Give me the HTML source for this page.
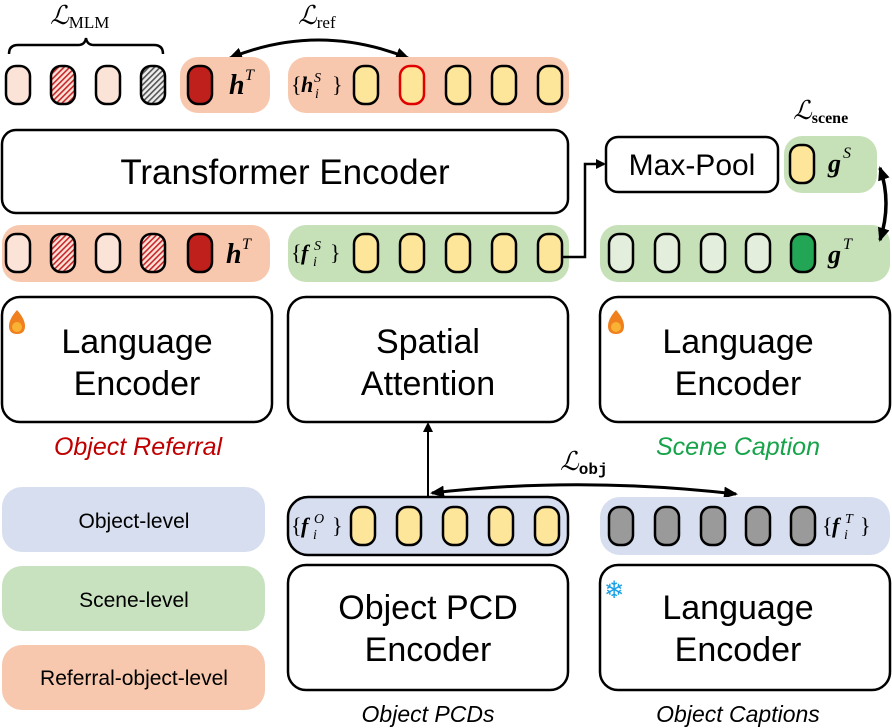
<!DOCTYPE html>
<html><head><meta charset="utf-8"><style>
html,body{margin:0;padding:0;background:#fff;}
svg{display:block;}
.sf{font-family:"Liberation Sans",sans-serif;}
.m{font-family:"Liberation Serif",serif;font-style:italic;}
.n{font-family:"Liberation Serif",serif;}
</style></head><body>
<svg width="892" height="728" viewBox="0 0 892 728" xmlns="http://www.w3.org/2000/svg">
<defs>
<pattern id="hr" width="4" height="4" patternUnits="userSpaceOnUse" patternTransform="rotate(45)">
<rect width="4" height="4" fill="#fbe3d8"/><rect width="1.6" height="4" fill="#c8262a"/></pattern>
<pattern id="hg" width="4" height="4" patternUnits="userSpaceOnUse" patternTransform="rotate(45)">
<rect width="4" height="4" fill="#eee"/><rect width="1.6" height="4" fill="#555"/></pattern>
<marker id="ar" markerWidth="10" markerHeight="10" refX="8" refY="5" orient="auto" markerUnits="userSpaceOnUse">
<path d="M0,0 L10,5 L0,10 z" fill="#000"/></marker>
<marker id="arb" markerWidth="14" markerHeight="12" refX="12" refY="6" orient="auto" markerUnits="userSpaceOnUse">
<path d="M0,0 L14,6 L0,12 z" fill="#000"/></marker>
<marker id="ars" markerWidth="14" markerHeight="12" refX="2" refY="6" orient="auto" markerUnits="userSpaceOnUse">
<path d="M14,0 L0,6 L14,12 z" fill="#000"/></marker>
</defs>

<!-- top row -->
<text x="50" y="24" class="m" font-size="26">ℒ<tspan font-style="normal" font-size="17" dy="4">MLM</tspan></text>
<path d="M9,54 Q9,45 18,45 L78,45 Q85,45 86,38 Q87,45 94,45 L154,45 Q163,45 163,54" fill="none" stroke="#000" stroke-width="2.5"/>
<text x="298" y="24" class="m" font-size="26">ℒ<tspan font-style="normal" font-size="17" dy="4">ref</tspan></text>
<path d="M230,58 Q318,22 408,58" fill="none" stroke="#000" stroke-width="3" marker-start="url(#ars)" marker-end="url(#arb)"/>

<rect x="180" y="57" width="90" height="56" rx="18" fill="#f7c8ae"/>
<rect x="288" y="57" width="281" height="56" rx="18" fill="#f7c8ae"/>
<g stroke="#000" stroke-width="2.5">
<rect x="6" y="66" width="24" height="38" rx="10" fill="#fbe3d8"/>
<rect x="51" y="66" width="24" height="38" rx="10" fill="url(#hr)"/>
<rect x="96" y="66" width="24" height="38" rx="10" fill="#fbe3d8"/>
<rect x="141" y="66" width="24" height="38" rx="10" fill="url(#hg)"/>
<rect x="188" y="66" width="24" height="38" rx="10" fill="#c0201c"/>
<rect x="354" y="66" width="24" height="38" rx="10" fill="#fde59a"/>
<rect x="400" y="66" width="24" height="38" rx="10" fill="#fde59a" stroke="#e00000"/>
<rect x="446" y="66" width="24" height="38" rx="10" fill="#fde59a"/>
<rect x="492" y="66" width="24" height="38" rx="10" fill="#fde59a"/>
<rect x="538" y="66" width="24" height="38" rx="10" fill="#fde59a"/>
</g>
<text x="229" y="94" class="m" font-weight="bold" font-size="28">h</text>
<text x="245" y="80" class="m" font-size="16">T</text>
<text x="291" y="92" class="n" font-size="22">{</text>
<text x="301" y="92" class="m" font-weight="bold" font-size="22">h</text>
<text x="314" y="82" class="m" font-size="14">S</text>
<text x="315" y="98" class="m" font-size="14">i</text>
<text x="332" y="92" class="n" font-size="22">}</text>

<!-- transformer -->
<rect x="2" y="130" width="566" height="83" rx="14" fill="#fff" stroke="#000" stroke-width="2.5"/>
<text x="285" y="184" text-anchor="middle" class="sf" font-size="35">Transformer Encoder</text>

<!-- row 2 -->
<rect x="2" y="225" width="268" height="57" rx="18" fill="#f7c8ae"/>
<rect x="288" y="225" width="281" height="57" rx="18" fill="#c6e0b8"/>
<g stroke="#000" stroke-width="2.5">
<rect x="6" y="234" width="24" height="38" rx="10" fill="#fbe3d8"/>
<rect x="51" y="234" width="24" height="38" rx="10" fill="url(#hr)"/>
<rect x="96" y="234" width="24" height="38" rx="10" fill="#fbe3d8"/>
<rect x="141" y="234" width="24" height="38" rx="10" fill="url(#hr)"/>
<rect x="188" y="234" width="24" height="38" rx="10" fill="#c0201c"/>
<rect x="354" y="234" width="24" height="38" rx="10" fill="#fde59a"/>
<rect x="400" y="234" width="24" height="38" rx="10" fill="#fde59a"/>
<rect x="446" y="234" width="24" height="38" rx="10" fill="#fde59a"/>
<rect x="492" y="234" width="24" height="38" rx="10" fill="#fde59a"/>
<rect x="538" y="234" width="24" height="38" rx="10" fill="#fde59a"/>
</g>
<text x="226" y="263" class="m" font-weight="bold" font-size="28">h</text>
<text x="242" y="249" class="m" font-size="16">T</text>
<text x="291" y="260" class="n" font-size="22">{</text>
<text x="301" y="260" class="m" font-weight="bold" font-size="22">f</text>
<text x="314" y="250" class="m" font-size="14">S</text>
<text x="313" y="266" class="m" font-size="14">i</text>
<text x="330" y="260" class="n" font-size="22">}</text>

<!-- connector to maxpool -->
<path d="M563,257 L585,257 L585,164 L604,164" fill="none" stroke="#000" stroke-width="2.5" marker-end="url(#ar)"/>

<rect x="606" y="137" width="172" height="55" rx="12" fill="#fff" stroke="#000" stroke-width="2.5"/>
<text x="692" y="175" text-anchor="middle" class="sf" font-size="30">Max-Pool</text>
<text x="793" y="119" class="m" font-size="26">ℒ<tspan font-style="normal" font-weight="bold" font-size="16" dy="4">scene</tspan></text>
<rect x="784" y="136" width="93" height="57" rx="18" fill="#c6e0b8"/>
<rect x="790" y="145" width="24" height="38" rx="10" fill="#fde59a" stroke="#000" stroke-width="2.5"/>
<text x="828" y="172" class="m" font-weight="bold" font-size="26">g</text>
<text x="843" y="158" class="m" font-size="16">S</text>

<rect x="600" y="225" width="290" height="57" rx="18" fill="#c6e0b8"/>
<g stroke="#000" stroke-width="2.5">
<rect x="609" y="234" width="24" height="38" rx="10" fill="#e3efdc"/>
<rect x="655" y="234" width="24" height="38" rx="10" fill="#e3efdc"/>
<rect x="701" y="234" width="24" height="38" rx="10" fill="#e3efdc"/>
<rect x="746" y="234" width="24" height="38" rx="10" fill="#e3efdc"/>
<rect x="791" y="234" width="24" height="38" rx="10" fill="#22a555"/>
</g>
<text x="828" y="263" class="m" font-weight="bold" font-size="26">g</text>
<text x="843" y="249" class="m" font-size="16">T</text>
<path d="M880,168 Q892,203 880,240" fill="none" stroke="#000" stroke-width="3.5" marker-start="url(#ars)" marker-end="url(#arb)"/>

<!-- encoders row -->
<g fill="#fff" stroke="#000" stroke-width="2.5">
<rect x="2" y="297" width="270" height="125" rx="18"/>
<rect x="288" y="297" width="280" height="125" rx="18"/>
<rect x="600" y="297" width="290" height="125" rx="18"/>
<rect x="288" y="565" width="280" height="125" rx="18"/>
<rect x="600" y="565" width="290" height="125" rx="18"/>
</g>
<g class="sf" font-size="34" text-anchor="middle">
<text x="137" y="353">Language</text><text x="137" y="395">Encoder</text>
<text x="428" y="353">Spatial</text><text x="428" y="395">Attention</text>
<text x="738" y="353">Language</text><text x="738" y="395">Encoder</text>
<text x="428" y="619">Object PCD</text><text x="428" y="661">Encoder</text>
<text x="738" y="619">Language</text><text x="738" y="661">Encoder</text>
</g>
<!-- fire icons -->
<g>
<path d="M17,310 Q9,319 9,326 Q9,334 17,334 Q25,334 25,326 Q25,319 17,310 z" fill="#f07f1e"/>
<circle cx="17" cy="327" r="5" fill="#f9b233"/>
<path d="M616,310 Q608,319 608,326 Q608,334 616,334 Q624,334 624,326 Q624,319 616,310 z" fill="#f07f1e"/>
<circle cx="616" cy="327" r="5" fill="#f9b233"/>
</g>
<text x="614" y="598" text-anchor="middle" font-size="24" fill="#1aa0e6" font-family="DejaVu Sans,sans-serif">❄</text>

<text x="138" y="455" text-anchor="middle" class="sf" font-style="italic" font-size="25" fill="#c00000">Object Referral</text>
<text x="738" y="455" text-anchor="middle" class="sf" font-style="italic" font-size="25" fill="#16a34a">Scene Caption</text>

<!-- legend -->
<rect x="2" y="487" width="263" height="65" rx="20" fill="#d6deef"/>
<rect x="2" y="566" width="263" height="65" rx="20" fill="#c8e2bf"/>
<rect x="2" y="645" width="263" height="65" rx="20" fill="#f7c8ae"/>
<g class="sf" font-size="21" text-anchor="middle">
<text x="134" y="528">Object-level</text>
<text x="134" y="607">Scene-level</text>
<text x="134" y="685">Referral-object-level</text>
</g>

<!-- bottom bands -->
<path d="M428,496 L428,424" stroke="#000" stroke-width="2" fill="none" marker-end="url(#ar)"/>
<text x="560" y="470" class="m" font-size="26">ℒ<tspan font-style="normal" font-size="16" dy="4" font-family="Liberation Mono,monospace" font-weight="bold">obj</tspan></text>
<path d="M432,493 Q580,476 736,494" fill="none" stroke="#000" stroke-width="3" marker-start="url(#ars)" marker-end="url(#arb)"/>

<rect x="288" y="497" width="280" height="58" rx="20" fill="#d6deef" stroke="#000" stroke-width="2.5"/>
<rect x="600" y="497" width="290" height="58" rx="20" fill="#d6deef"/>
<g stroke="#000" stroke-width="2.5">
<rect x="351" y="507" width="24" height="38" rx="10" fill="#fde59a"/>
<rect x="397" y="507" width="24" height="38" rx="10" fill="#fde59a"/>
<rect x="443" y="507" width="24" height="38" rx="10" fill="#fde59a"/>
<rect x="489" y="507" width="24" height="38" rx="10" fill="#fde59a"/>
<rect x="535" y="507" width="24" height="38" rx="10" fill="#fde59a"/>
<rect x="609" y="507" width="24" height="38" rx="10" fill="#9a9a9a"/>
<rect x="655" y="507" width="24" height="38" rx="10" fill="#9a9a9a"/>
<rect x="701" y="507" width="24" height="38" rx="10" fill="#9a9a9a"/>
<rect x="746" y="507" width="24" height="38" rx="10" fill="#9a9a9a"/>
<rect x="791" y="507" width="24" height="38" rx="10" fill="#9a9a9a"/>
</g>
<text x="291" y="533" class="n" font-size="22">{</text>
<text x="301" y="533" class="m" font-weight="bold" font-size="22">f</text>
<text x="314" y="523" class="m" font-size="14">O</text>
<text x="313" y="539" class="m" font-size="14">i</text>
<text x="332" y="533" class="n" font-size="22">}</text>
<text x="822" y="533" class="n" font-size="22">{</text>
<text x="832" y="533" class="m" font-weight="bold" font-size="22">f</text>
<text x="845" y="523" class="m" font-size="14">T</text>
<text x="844" y="539" class="m" font-size="14">i</text>
<text x="860" y="533" class="n" font-size="22">}</text>

<text x="428" y="722" text-anchor="middle" class="sf" font-style="italic" font-size="23">Object PCDs</text>
<text x="738" y="722" text-anchor="middle" class="sf" font-style="italic" font-size="23">Object Captions</text>
</svg>
</body></html>
